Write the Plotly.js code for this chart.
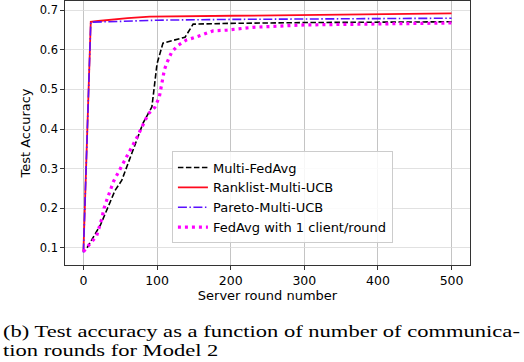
<!DOCTYPE html>
<html>
<head>
<meta charset="utf-8">
<script src="https://cdn.plot.ly/plotly-3.0.1.min.js"></script>
<style>
  html, body { margin: 0; padding: 0; background: #fff; }
  #chart { width: 524px; height: 362px; }
</style>
</head>
<body>
<div id="chart"></div>
<script>
// Multi-FedAvg
var multiFedRounds = [5, 23, 43, 52, 66, 81, 93, 100, 108, 138, 149, 200, 300, 400, 500];
var multiFedAcc = [0.1, 0.157, 0.245, 0.27, 0.34, 0.415, 0.456, 0.565, 0.617, 0.632, 0.665, 0.667, 0.669, 0.67, 0.671];

// Ranklist-Multi-UCB
var rankRounds = [0, 10, 20, 40, 60, 90, 150, 250, 350, 450, 500];
var rankAcc = [0.09, 0.671, 0.673, 0.677, 0.68, 0.684, 0.685, 0.688, 0.69, 0.691, 0.692];

// Pareto-Multi-UCB
var paretoRounds = [0, 10, 50, 100, 200, 300, 400, 500];
var paretoAcc = [0.088, 0.67, 0.672, 0.675, 0.677, 0.678, 0.679, 0.68];

// FedAvg with 1 client/round
var fedAvgRounds = [0, 9, 18, 25, 28, 32, 37, 41, 47, 53, 59, 73, 88, 97, 103, 107, 110, 114, 120, 129, 140, 154, 165, 176, 195, 215, 230, 300, 400, 500];
var fedAvgAcc = [0.09, 0.109, 0.13, 0.174, 0.2, 0.222, 0.245, 0.268, 0.289, 0.31, 0.332, 0.38, 0.438, 0.455, 0.48, 0.527, 0.55, 0.57, 0.595, 0.612, 0.625, 0.633, 0.64, 0.648, 0.65, 0.654, 0.657, 0.663, 0.666, 0.668];

var seriesNames = ["Multi-FedAvg", "Ranklist-Multi-UCB", "Pareto-Multi-UCB", "FedAvg with 1 client/round"];

var xTicks = [0, 100, 200, 300, 400, 500];
var yTicks = [0.1, 0.2, 0.3, 0.4, 0.5, 0.6, 0.7];

var captionLines = [
    "(b) Test accuracy as a function of number of communica-",
    "tion rounds for Model 2"
];

function drawChart() {
    var data = [
        {
            x: multiFedRounds, y: multiFedAcc, name: seriesNames[0], mode: "lines",
            line: { color: "#000000", width: 1.6, dash: "5.5px,2.5px" }
        },
        {
            x: rankRounds, y: rankAcc, name: seriesNames[1], mode: "lines",
            line: { color: "#ff0a1e", width: 1.8 }
        },
        {
            x: paretoRounds, y: paretoAcc, name: seriesNames[2], mode: "lines",
            line: { color: "#5a10ff", width: 1.6, dash: "9px,2.5px,1.5px,2.5px" }
        },
        {
            x: fedAvgRounds, y: fedAvgAcc, name: seriesNames[3], mode: "lines",
            line: { color: "#ff00ff", width: 3.2, dash: "3px,4px" }
        }
    ];

    var H = 264; // plot height in px
    var layout = {
        width: 524,
        height: 362,
        margin: { l: 65, r: 54, t: 1, b: 97 },
        paper_bgcolor: "#ffffff",
        plot_bgcolor: "#ffffff",
        font: { family: "DejaVu Sans", size: 11, color: "#000000" },
        showlegend: true,
        legend: {
            x: 0.264, y: 0.43, xanchor: "left", yanchor: "top",
            bgcolor: "rgba(255,255,255,0.85)",
            bordercolor: "#cccccc", borderwidth: 1,
            font: { family: "DejaVu Sans", size: 13, color: "#000000" },
            tracegroupgap: 0
        },
        xaxis: {
            range: [-25, 525],
            tickvals: xTicks,
            tickfont: { size: 12.5 },
            ticks: "outside", ticklen: 3.5, tickwidth: 0.8, tickcolor: "#000",
            showgrid: true, gridcolor: "#c4c4c4", gridwidth: 1,
            zeroline: false,
            showline: true, linecolor: "#333", linewidth: 1.2, mirror: true,
            title: { text: "Server round number", font: { size: 13 }, standoff: 3 }
        },
        yaxis: {
            range: [0.0564, 0.7235],
            tickvals: yTicks,
            tickformat: ".1f",
            tickfont: { size: 11.5 },
            ticks: "outside", ticklen: 3.5, tickwidth: 0.8, tickcolor: "#000",
            showgrid: true, gridcolor: "#dadada", gridwidth: 0.8,
            zeroline: false,
            showline: true, linecolor: "#333", linewidth: 1.2, mirror: true,
            title: { text: "Test Accuracy", font: { size: 13 }, standoff: 6 }
        },
        annotations: [
            {
                text: captionLines[0], xref: "paper", yref: "paper",
                x: -64 / 405, y: (265 - 331) / H, xanchor: "left", yanchor: "middle",
                showarrow: false,
                font: { family: "Liberation Serif", size: 16.5, color: "#000" }
            },
            {
                text: captionLines[1], xref: "paper", yref: "paper",
                x: -64 / 405, y: (265 - 350) / H, xanchor: "left", yanchor: "middle",
                showarrow: false,
                font: { family: "Liberation Serif", size: 16.5, color: "#000" }
            }
        ]
    };

    Plotly.newPlot("chart", data, layout, { staticPlot: true }).then(function () {
        // the caption in the picture is drawn wider than the font's natural width
        var texts = document.querySelectorAll("#chart .annotation-text");
        if (!texts.length) return;
        var w = texts[0].getBBox().width;
        var s = 517 / w;
        texts.forEach(function (t) {
            t.style.transformBox = "fill-box";
            t.style.transformOrigin = "left center";
            t.style.transform = "scaleX(" + s + ")";
        });
    });
}

drawChart();
</script>
</body>
</html>
